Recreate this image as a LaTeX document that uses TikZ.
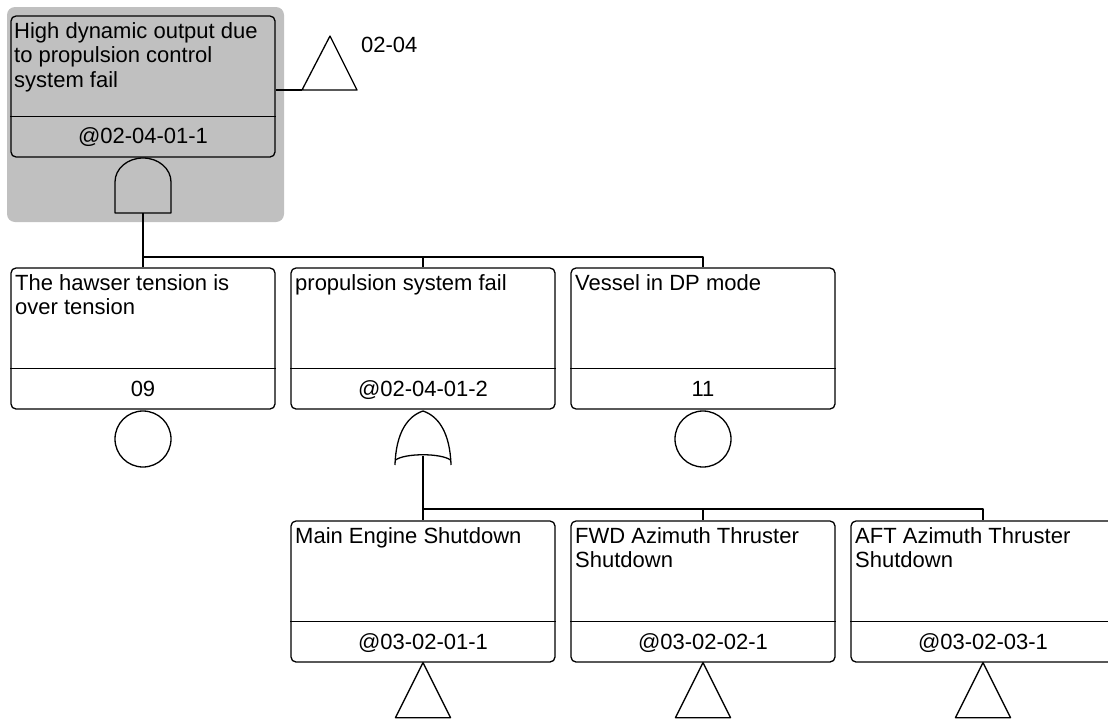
\documentclass[tikz,border=0pt]{standalone}
\usepackage{fontspec}
\setmainfont{Liberation Sans}
\definecolor{bggray}{RGB}{192,192,192}
\tikzset{
  ln/.style={line width=1.3pt, line join=round},
  evbox/.style={draw, ln, rounded corners=5pt, minimum width=264pt, minimum height=141pt, inner sep=0pt, fill=white},
  evtext/.style={anchor=north west, align=left, inner sep=0pt, font=\fontsize{22}{24.5}\selectfont},
  idtext/.style={anchor=base, inner sep=0pt, font=\fontsize{22}{24.5}\selectfont},
  undev/.style={draw, ln, circle, minimum size=56pt, inner sep=0pt}
}
\newcommand{\divline}[1]{\draw[ln] ([yshift=-101pt]#1.north west) -- ([yshift=-101pt]#1.north east);}
\begin{document}
\begin{tikzpicture}[x=1pt,y=-1pt]
\useasboundingbox (0,0) rectangle (1108,720);
% gray highlight
\fill[bggray, rounded corners=8pt] (7,7) rectangle (284,222);
% top event
\node[evbox, fill=bggray] (top) at (143,86.5) {};
\divline{top}
\node[evtext] (topT) at (14,22) {High dynamic output due\\to propulsion control\\system fail};
\node[idtext] (topI) at (143,143) {@02-04-01-1};
% transfer out triangle
\coordinate (tr0) at (302,90);
\coordinate (trA) at (330,36);
\coordinate (trB) at (357,90);
\draw[ln] (tr0 -| top.east) -- (tr0);
\draw[ln] (tr0) -- (trA) -- (trB) -- cycle;
\node[anchor=base west, inner sep=0pt, font=\fontsize{22}{24.5}\selectfont] (trL) at (361,52) {02-04};
% AND gate
\coordinate (andOut) at (143,213);
\draw[ln] (115,213) -- (115,182) .. controls (115,168.8) and (127.3,158) .. (143,158)
  .. controls (158.7,158) and (171,168.8) .. (171,182) -- (171,213) -- cycle;
% middle row
\node[evbox] (b1) at (143,338.5) {};
\node[evbox] (b2) at (423,338.5) {};
\node[evbox] (b3) at (703,338.5) {};
\divline{b1}\divline{b2}\divline{b3}
\node[evtext] (b1T) at (15,274) {The hawser tension is\\over tension};
\node[evtext] (b2T) at (295,274) {propulsion system fail};
\node[evtext] (b3T) at (575,274) {Vessel in DP mode};
\node[idtext] (b1I) at (143,396) {09};
\node[idtext] (b2I) at (423,396) {@02-04-01-2};
\node[idtext] (b3I) at (703,396) {11};
% AND connectors
\coordinate (bar1) at (143,257);
\draw[ln] (andOut) -- (b1.north);
\draw[ln] (bar1) -| (b2.north);
\draw[ln] (bar1) -| (b3.north);
% undeveloped events
\node[undev] (u1) at (143,439) {};
\node[undev] (u3) at (703,439) {};
% OR gate
\coordinate (orOut) at (423,456);
\draw[ln] (395,465) .. controls (396,432) and (408,416) .. (423,411)
  .. controls (438,416) and (450,432) .. (451,465);
\draw[ln] (395.5,460) .. controls (405,453) and (441,453) .. (450.5,460);
% bottom row
\node[evbox] (c1) at (423,591.5) {};
\node[evbox] (c2) at (703,591.5) {};
\node[evbox] (c3) at (983,591.5) {};
\divline{c1}\divline{c2}\divline{c3}
\node[evtext] (c1T) at (295,527) {Main Engine Shutdown};
\node[evtext] (c2T) at (575,527) {FWD Azimuth Thruster\\Shutdown};
\node[evtext] (c3T) at (855,527) {AFT Azimuth Thruster\\Shutdown};
\node[idtext] (c1I) at (423,649) {@03-02-01-1};
\node[idtext] (c2I) at (703,649) {@03-02-02-1};
\node[idtext] (c3I) at (983,649) {@03-02-03-1};
% OR connectors
\coordinate (bar2) at (423,509);
\draw[ln] (orOut) -- (c1.north);
\draw[ln] (bar2) -| (c2.north);
\draw[ln] (bar2) -| (c3.north);
% transfer-in triangles
\foreach \n in {c1,c2,c3}{
  \draw[ln] (\n.south) -- ++(-27.5,55) -- ++(55,0) -- cycle;
}
\end{tikzpicture}
\end{document}
